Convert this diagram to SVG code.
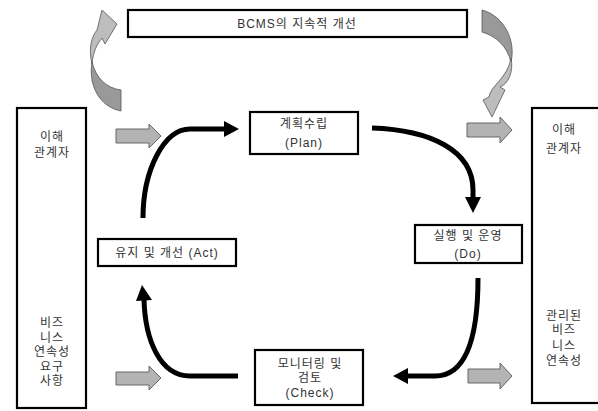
<svg xmlns="http://www.w3.org/2000/svg" width="598" height="411" viewBox="0 0 598 411">
<style>
.box{fill:#fff;stroke:#000;stroke-width:2.2}
.t{font-family:"Liberation Sans","Noto Sans CJK KR",sans-serif;font-size:12px;fill:#333;text-anchor:middle;letter-spacing:1px}
.flow{fill:none;stroke:#000;stroke-width:5}
.head{fill:#000}
.block{fill:#b3b3b3;stroke:#666;stroke-width:1}
.dark{fill:#999;stroke:#555;stroke-width:0.8}
.light{fill:#bdbdbd;stroke:#555;stroke-width:0.8}
</style>
<rect width="598" height="411" fill="#fff"/>

<g id="cycle-top-left">
<path class="dark" d="M92,62 C88,86 100,107 121,111 L121,90 C106,88 96,78 92,62 Z"/>
<path class="light" d="M92,64 C88,48 92,36 97,30 L102,10 L117,24 L105,44 L102,38 C97,44 93,52 92,64 Z"/>
</g>
<g id="cycle-top-right">
<path class="dark" d="M482,10 L482,32 C496,36 507,46 511,62 C516,42 505,16 482,10 Z"/>
<path class="light" d="M511,58 C514,72 508,84 500,87 L505,90 L492,117 L483,100 L489,97 C490,86 508,78 511,58 Z"/>
</g>

<g id="bcms">
<rect class="box" x="128" y="10" width="339" height="27"/>
<text class="t" x="297" y="28">BCMS의 지속적 개선</text>
</g>

<g id="left-stakeholders">
<rect class="box" x="17" y="108" width="69" height="300"/>
<text class="t" x="52" y="141">이해</text>
<text class="t" x="52" y="157">관계자</text>
<text class="t" x="52" y="327">비즈</text>
<text class="t" x="52" y="342">니스</text>
<text class="t" x="52" y="356">연속성</text>
<text class="t" x="52" y="371">요구</text>
<text class="t" x="52" y="385">사항</text>
</g>

<g id="right-stakeholders">
<rect class="box" x="532" y="108" width="70" height="295"/>
<text class="t" x="564" y="134">이해</text>
<text class="t" x="564" y="153">관계자</text>
<text class="t" x="564" y="320">관리된</text>
<text class="t" x="564" y="334">비즈</text>
<text class="t" x="564" y="350">니스</text>
<text class="t" x="564" y="365">연속성</text>
</g>

<g id="plan">
<rect class="box" x="250" y="112" width="108" height="42"/>
<text class="t" x="304" y="128">계획수립</text>
<text class="t" x="304" y="147">(Plan)</text>
</g>

<g id="do">
<rect class="box" x="415" y="225" width="107" height="38"/>
<text class="t" x="468" y="240">실행 및 운영</text>
<text class="t" x="468" y="258">(Do)</text>
</g>

<g id="act">
<rect class="box" x="98" y="239" width="138" height="27"/>
<text class="t" x="167" y="257">유지 및 개선 (Act)</text>
</g>

<g id="check">
<rect class="box" x="255" y="350" width="108" height="55"/>
<text class="t" x="310" y="368">모니터링 및</text>
<text class="t" x="310" y="382">검토</text>
<text class="t" x="310" y="397">(Check)</text>
</g>

<g id="connectors">
<path class="flow" d="M143,218 C143,170 164,129 190,129 L226,129"/>
<polygon class="head" points="224,121 239,129 224,137"/>
<path class="flow" d="M372,128 C430,130 473,150 473,190 L473,199"/>
<polygon class="head" points="465,197 481,197 473,213"/>
<path class="flow" d="M478,278 C478,340 465,376 435,376 L405,376"/>
<polygon class="head" points="408,368 393,376 408,384"/>
<path class="flow" d="M238,376 L190,376 C160,376 145,340 144,299"/>
<polygon class="head" points="136,301 152,300 142,285"/>
<polygon class="block" points="116,129 149,129 149,124 161,136 149,148 149,143 116,143"/>
<polygon class="block" points="116,372 149,372 149,366 161,378 149,390 149,385 116,385"/>
<polygon class="block" points="467,123 500,123 500,117 512,130 500,143 500,137 467,137"/>
<polygon class="block" points="468,369 500,369 500,363 512,376 500,389 500,383 468,383"/>
</g>
</svg>
